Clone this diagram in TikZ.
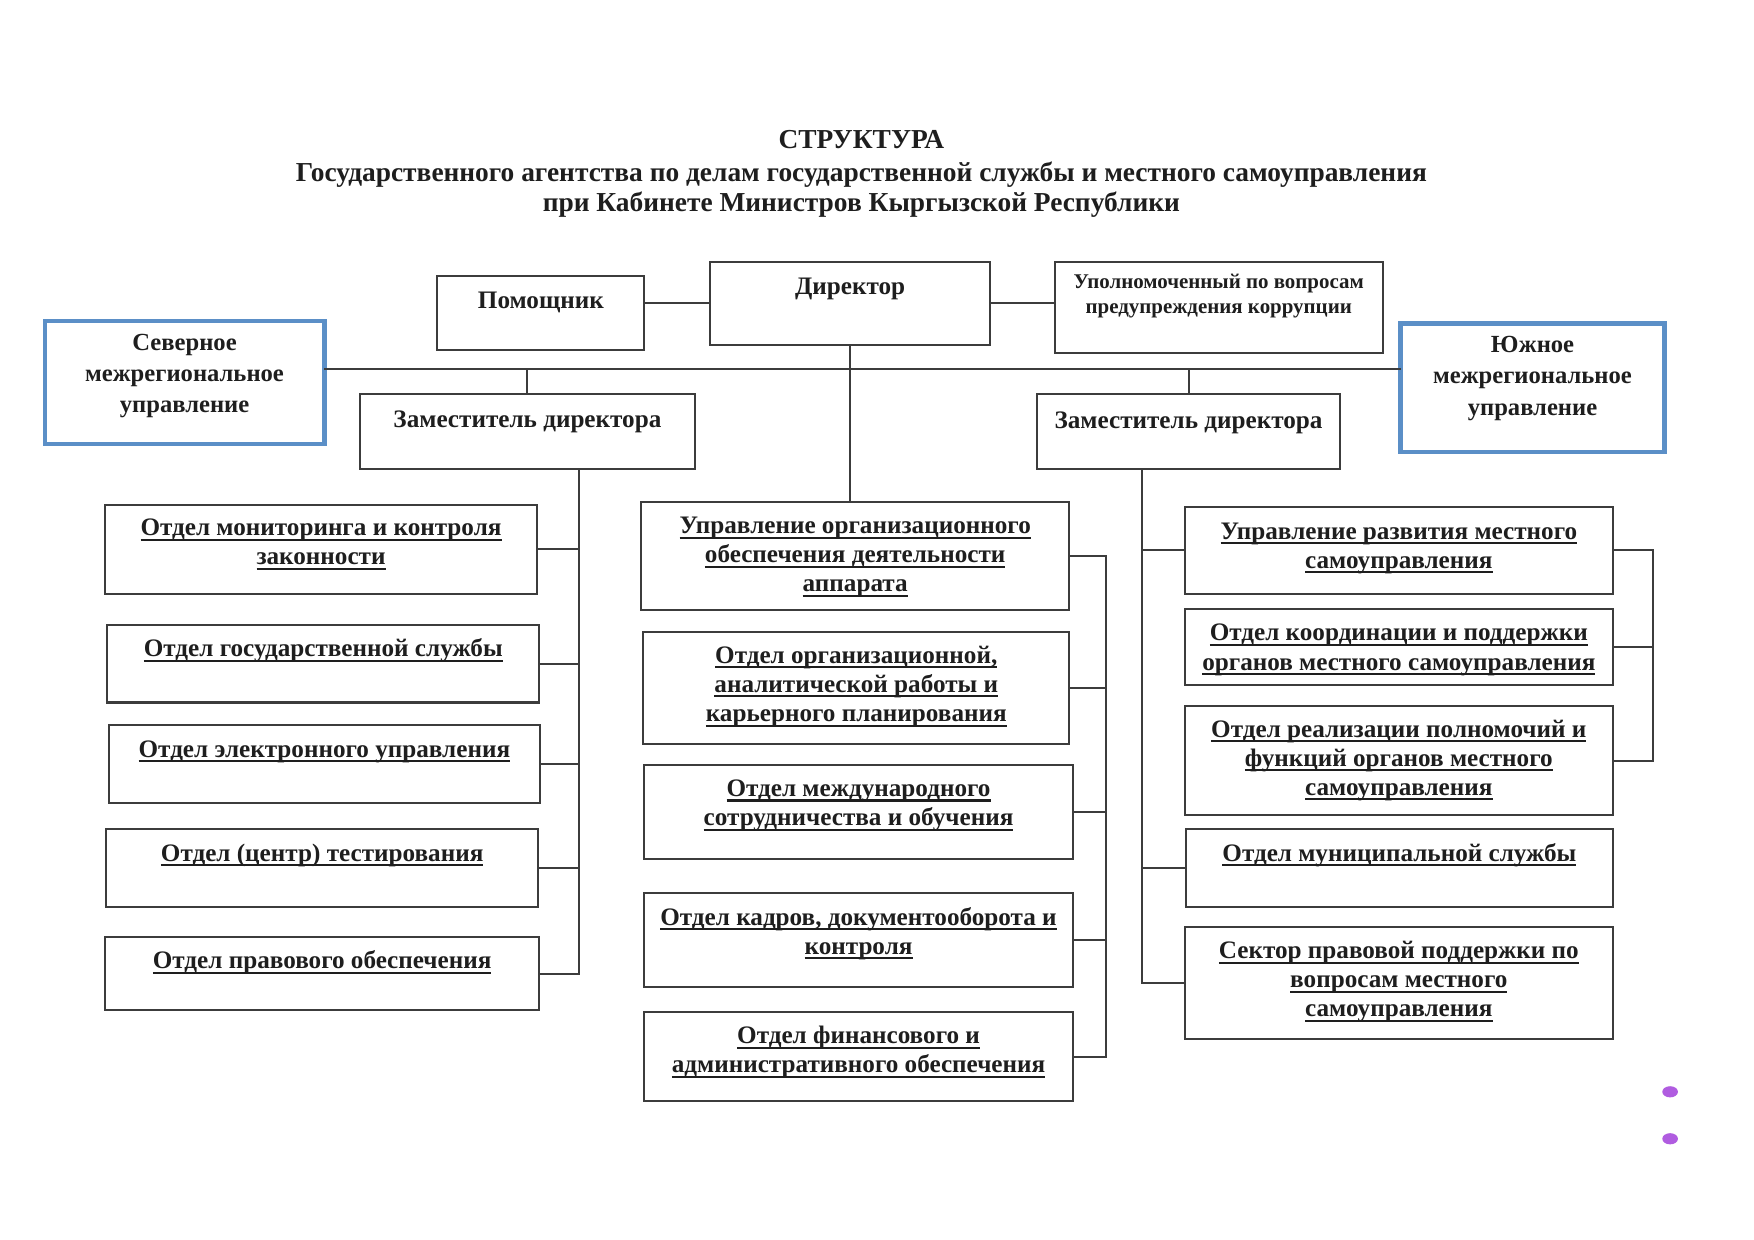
\documentclass[tikz,border=0pt]{standalone}
\usepackage{fontspec}
\setmainfont{Liberation Serif}
\definecolor{textc}{RGB}{30,30,30}
\definecolor{linec}{RGB}{60,60,60}
\definecolor{blueb}{RGB}{91,143,199}
\definecolor{dotc}{RGB}{176,92,224}
\newcommand{\myul}[1]{\leavevmode\setbox0\hbox{#1}\rlap{\rule[-4.5pt]{\wd0}{1.8pt}}\box0}
\newcommand{\boxfont}{\bfseries\fontsize{22.5}{26}\selectfont}
\newcommand{\smallboxfont}{\bfseries\fontsize{18.7}{22}\selectfont}
\newcommand{\regfont}{\bfseries\fontsize{22}{28}\selectfont}
% name, x, y, w, h, first-baseline offset, font, text
\newcommand{\obox}[9][]{\node[obox,#1] (#2) at (#3,#4) {\parbox[t][#6pt][t]{#5pt}{\centering#8\rule{0pt}{#7pt}#9}};}
\begin{document}
\begin{tikzpicture}[x=1pt,y=-1pt,
  obox/.style={draw=linec,line width=1.8pt,inner sep=0pt,outer sep=0pt,anchor=north west,text=textc},
  blueframe/.style={draw=blueb,line width=4pt},
  conn/.style={draw=linec,line width=1.8pt},
  ttl/.style={text=textc,font=\bfseries\fontsize{24.5}{28}\selectfont,inner sep=0pt,anchor=base}]
\useasboundingbox (0,0) rectangle (1568,1108.5);
\fill[white] (0,0) rectangle (1568,1108.5);

% title
\node[ttl] (t1) at (770,133) {СТРУКТУРА};
\node[ttl] (t2) at (770,162) {Государственного агентства по делам государственной службы и местного самоуправления};
\node[ttl] (t3) at (770,189) {при Кабинете Министров Кыргызской Республики};

% top level
\obox{pom}{391}{247}{185}{66}{29}{\boxfont}{Помощник}
\obox{dir}{635}{234}{250}{74}{29}{\boxfont}{Директор}
\obox{upol}{943}{234}{293}{82}{24}{\smallboxfont}{Уполномоченный по вопросам\\предупреждения коррупции}
\obox[blueframe]{sev}{40}{287}{250}{110}{26}{\regfont}{Северное\\межрегиональное\\управление}
\obox[blueframe]{yuzh}{1252}{289}{236}{115}{26}{\regfont}{Южное\\межрегиональное\\управление}
\obox{zl}{322}{352}{299}{67}{30}{\boxfont}{Заместитель директора}
\obox{zr}{927}{352}{271}{67}{31}{\boxfont}{Заместитель директора}

% left column
\obox{l1}{94}{451}{386}{80}{28}{\boxfont}{\myul{Отдел мониторинга и контроля}\\\myul{законности}}
\obox{l2}{96}{559}{386}{69}{28}{\boxfont}{\myul{Отдел государственной службы}}
\obox{l3}{97}{648}{386}{70}{29}{\boxfont}{\myul{Отдел электронного управления}}
\obox{l4}{95}{741}{386}{70}{29}{\boxfont}{\myul{Отдел (центр) тестирования}}
\obox{l5}{94}{838}{388}{65}{28}{\boxfont}{\myul{Отдел правового обеспечения}}

% middle column
\obox{c1}{573}{449}{383}{96}{28}{\boxfont}{\myul{Управление организационного}\\\myul{обеспечения деятельности}\\\myul{аппарата}}
\obox{c2}{575}{565}{381}{100}{28}{\boxfont}{\myul{Отдел организационной,}\\\myul{аналитической работы и}\\\myul{карьерного планирования}}
\obox{c3}{576}{684}{383}{84}{28}{\boxfont}{\myul{Отдел международного}\\\myul{сотрудничества и обучения}}
\obox{c4}{576}{798}{383}{84}{29}{\boxfont}{\myul{Отдел кадров, документооборота и}\\\myul{контроля}}
\obox{c5}{576}{905}{383}{79}{28}{\boxfont}{\myul{Отдел финансового и}\\\myul{административного обеспечения}}

% right column
\obox{r1}{1059}{453}{383}{78}{29}{\boxfont}{\myul{Управление развития местного}\\\myul{самоуправления}}
\obox{r2}{1059}{544}{383}{68}{29}{\boxfont}{\myul{Отдел координации и поддержки}\\\myul{органов местного самоуправления}}
\obox{r3}{1059}{631}{383}{98}{28}{\boxfont}{\myul{Отдел реализации полномочий и}\\\myul{функций органов местного}\\\myul{самоуправления}}
\obox{r4}{1060}{741}{382}{70}{29}{\boxfont}{\myul{Отдел муниципальной службы}}
\obox{r5}{1059}{829}{383}{100}{28}{\boxfont}{\myul{Сектор правовой поддержки по}\\\myul{вопросам местного}\\\myul{самоуправления}}

% helper coordinates
\coordinate (hl) at (0,330);
\coordinate (tl) at (518,0);
\coordinate (tm) at (989,0);
\coordinate (tr) at (1021,0);
\coordinate (tr2) at (1478,0);

% connectors top
\draw[conn] (pom.east |- 0,271) -- (dir.west |- 0,271);
\draw[conn] (dir.east |- 0,271) -- (upol.west |- 0,271);
\draw[conn] (sev.east |- hl) -- (yuzh.west |- hl);
\draw[conn] (zl.north |- hl) -- (zl.north);
\draw[conn] (zr.north |- hl) -- (zr.north);
\draw[conn] (dir.south) -- (dir.south |- c1.north);

% left trunk
\draw[conn] (tl |- zl.south) -- (tl |- l5.east) -- (l5.east);
\foreach \n in {l1,l2,l3,l4} \draw[conn] (\n.east) -- (\n.east -| tl);

% middle trunk
\draw[conn] (c1.east) -- (c1.east -| tm) -- (tm |- c5.east) -- (c5.east);
\foreach \n in {c2,c3,c4} \draw[conn] (\n.east) -- (\n.east -| tm);

% right trunks
\draw[conn] (tr |- zr.south) -- (tr |- r5.west) -- (r5.west);
\foreach \n in {r1,r4} \draw[conn] (\n.west) -- (\n.west -| tr);
\draw[conn] (r1.east) -- (r1.east -| tr2) -- (tr2 |- r3.east) -- (r3.east);
\draw[conn] (r2.east) -- (r2.east -| tr2);

% small purple marks
\fill[dotc] (1493,976) ellipse (7 and 5);
\fill[dotc] (1493,1018) ellipse (7 and 5);
\end{tikzpicture}
\end{document}
